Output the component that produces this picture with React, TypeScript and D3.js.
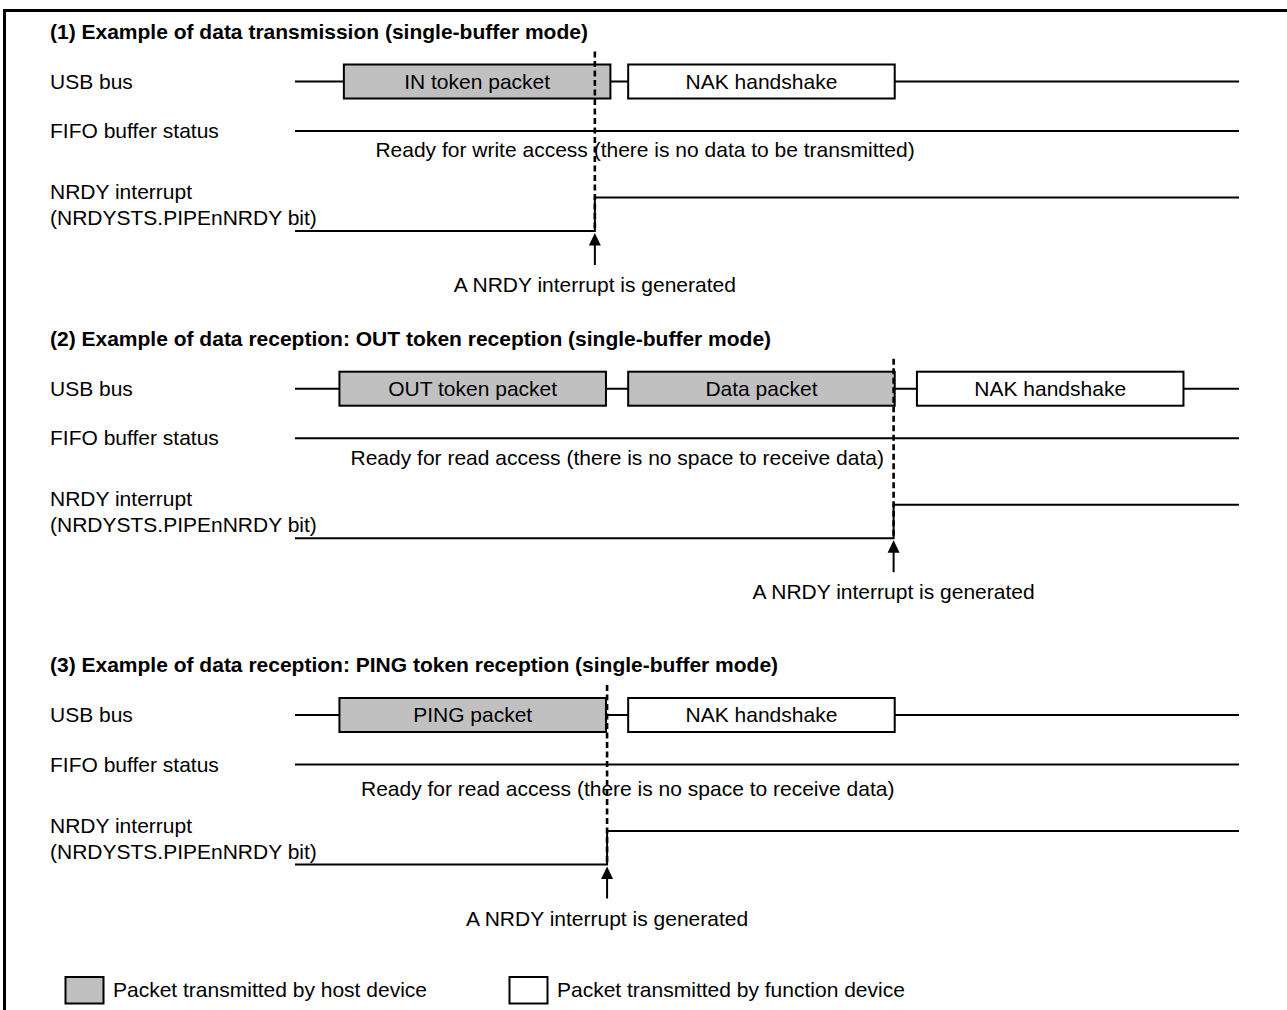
import React from "react";
import * as d3 from "d3";

// ---- data ----
const sectionTitles = [
  "(1) Example of data transmission (single-buffer mode)",
  "(2) Example of data reception: OUT token reception (single-buffer mode)",
  "(3) Example of data reception: PING token reception (single-buffer mode)",
];
const usbLineY = [81.5, 388.7, 715];
const signalNames = ["USB bus", "FIFO buffer status"];
const nrdyNames = ["NRDY interrupt", "(NRDYSTS.PIPEnNRDY bit)"];

// packet start/end in bus time units; host = packet transmitted by host
const packets1 = [
  { label: "IN token packet", start: 2.2, end: 14.2, host: true },
  { label: "NAK handshake", start: 15, end: 27, host: false },
];
const packets2 = [
  { label: "OUT token packet", start: 2, end: 14, host: true },
  { label: "Data packet", start: 15, end: 27, host: true },
  { label: "NAK handshake", start: 28, end: 40, host: false },
];
const packets3 = [
  { label: "PING packet", start: 2, end: 14, host: true },
  { label: "NAK handshake", start: 15, end: 27, host: false },
];
const sectionPackets = [packets1, packets2, packets3];
const eventTimes = [13.5, 26.95, 14.05];
const fifoNotes = [
  "Ready for write access (there is no data to be transmitted)",
  "Ready for read access (there is no space to receive data)",
  "Ready for read access (there is no space to receive data)",
];
const fifoNoteStart = [3.62, 2.5, 2.97];
const fifoNoteDy = [26, 27, 31];
const interruptNote = "A NRDY interrupt is generated";
const timeDomain = [0, 42.5];
const legendItems = [
  { label: "Packet transmitted by host device", host: true },
  { label: "Packet transmitted by function device", host: false },
];

// ---- style ----
const FONT = "'Liberation Sans', Arial, Helvetica, sans-serif";
const FS = 21;
const HOST_FILL = "#c0c0c0";

export default function App() {
  const x = d3.scaleLinear().domain(timeDomain).range([295, 1239]);
  const W = 1287;
  const H = 1010;
  const boxH = 34;

  return (
    <div style={{ position: "absolute", left: 0, top: 0 }}>
      <svg width={W} height={H} style={{ display: "block", background: "#fff" }} fontFamily={FONT}>
        {/* frame */}
        <line x1={3} x2={W} y1={10.5} y2={10.5} stroke="#000" strokeWidth={3} />
        <line x1={4.5} x2={4.5} y1={9} y2={H} stroke="#000" strokeWidth={3} />

        {sectionTitles.map((title, i) => {
          const yU = usbLineY[i];
          const yF = yU + 49.5;
          const yHi = yF + 66.5;
          const yLo = yHi + 33.5;
          const ex = x(eventTimes[i]);
          const [x0, x1] = x.range();
          return (
            <g key={i}>
              <text x={50} y={yU - 43} fontSize={FS} fontWeight="bold" fill="#000">
                {title}
              </text>
              {/* labels */}
              <text x={50} y={yU + 7} fontSize={FS}>{signalNames[0]}</text>
              <text x={50} y={yF + 7} fontSize={FS}>{signalNames[1]}</text>
              <text x={50} y={yHi + 1.5} fontSize={FS}>{nrdyNames[0]}</text>
              <text x={50} y={yLo - 6} fontSize={FS}>{nrdyNames[1]}</text>

              {/* USB bus */}
              <line x1={x0} x2={x1} y1={yU} y2={yU} stroke="#000" strokeWidth={2} />
              {sectionPackets[i].map((p, j) => (
                <g key={j}>
                  <rect
                    x={x(p.start)}
                    y={yU - boxH / 2}
                    width={x(p.end) - x(p.start)}
                    height={boxH}
                    fill={p.host ? HOST_FILL : "#fff"}
                    stroke="#000"
                    strokeWidth={2}
                  />
                  <text
                    x={(x(p.start) + x(p.end)) / 2}
                    y={yU + 7}
                    fontSize={FS}
                    textAnchor="middle"
                  >
                    {p.label}
                  </text>
                </g>
              ))}

              {/* FIFO */}
              <line x1={x0} x2={x1} y1={yF} y2={yF} stroke="#000" strokeWidth={2} />
              <text x={x(fifoNoteStart[i])} y={yF + fifoNoteDy[i]} fontSize={FS}>
                {fifoNotes[i]}
              </text>

              {/* NRDY */}
              <path
                d={`M${x0},${yLo}H${ex}V${yHi}H${x1}`}
                fill="none"
                stroke="#000"
                strokeWidth={2}
              />

              {/* event dashed line */}
              <line
                x1={ex}
                x2={ex}
                y1={yU - 30}
                y2={yLo}
                stroke="#000"
                strokeWidth={2.6}
                strokeDasharray="6,3.5"
              />

              {/* arrow */}
              <path d={`M${ex},${yLo + 2}L${ex - 6},${yLo + 14.5}L${ex + 6},${yLo + 14.5}Z`} fill="#000" />
              <line x1={ex} x2={ex} y1={yLo + 14} y2={yLo + 34} stroke="#000" strokeWidth={2} />
              <text x={ex} y={yLo + 61} fontSize={FS} textAnchor="middle">
                {interruptNote}
              </text>
            </g>
          );
        })}

        {/* legend */}
        {legendItems.map((item, i) => {
          const lx = i === 0 ? 65.5 : 509.5;
          return (
            <g key={i}>
              <rect
                x={lx}
                y={977}
                width={38}
                height={26.5}
                fill={item.host ? HOST_FILL : "#fff"}
                stroke="#000"
                strokeWidth={2}
              />
              <text x={lx + 47.5} y={997} fontSize={FS}>
                {item.label}
              </text>
            </g>
          );
        })}
      </svg>
    </div>
  );
}
